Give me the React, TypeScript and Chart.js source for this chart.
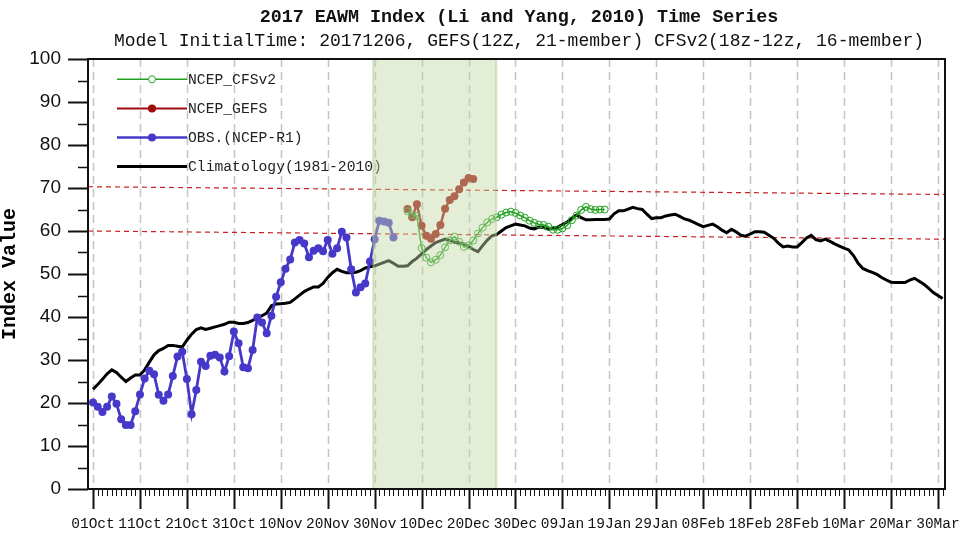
import React, { useEffect, useRef } from 'react';
import { Chart, registerables } from 'chart.js';

Chart.register(...registerables);

// ---------------- data ----------------
const tickDays = [0, 10, 20, 30, 40, 50, 60, 70, 80, 90, 100, 110, 120, 130, 140, 150, 160, 170, 180];
const tickLabels = ['01Oct', '11Oct', '21Oct', '31Oct', '10Nov', '20Nov', '30Nov', '10Dec', '20Dec', '30Dec', '09Jan', '19Jan', '29Jan', '08Feb', '18Feb', '28Feb', '10Mar', '20Mar', '30Mar'];

// Climatology (1981-2010), daily from 01Oct (day 0) to 31Mar (day 181)
const climStartDay = 0;
const climValues = [
  23.2, 24.3, 25.5, 26.8, 27.7, 27.1, 26.0, 25.0, 25.8, 26.5,
  26.5, 27.7, 29.5, 31.2, 32.2, 32.7, 33.4, 33.4, 33.2, 33.0,
  34.6, 36.0, 37.1, 37.5, 37.1, 37.4, 37.7, 38.0, 38.3, 38.8,
  38.8, 38.5, 38.5, 38.7, 39.2, 39.8, 40.3, 40.9, 42.6, 43.0,
  43.1, 43.2, 43.4, 44.2, 45.1, 45.9, 46.5, 47.0, 47.0, 47.8,
  49.2, 50.3, 51.1, 50.6, 50.3, 50.3, 50.4, 50.8, 51.4, 51.7,
  51.9, 52.3, 52.7, 53.1, 52.5, 51.8, 51.8, 51.9, 52.9, 53.7,
  54.7, 55.7, 56.5, 57.3, 57.7, 58.1, 57.8, 57.4, 57.2, 57.0,
  56.4, 55.7, 55.2, 56.6, 57.9, 58.9, 59.2, 60.0, 60.8, 61.2,
  61.6, 61.4, 61.2, 60.7, 60.5, 60.9, 60.8, 60.4, 60.6, 60.9,
  61.5, 62.1, 62.9, 63.7, 63.1, 62.6, 62.6, 62.7, 62.7, 62.7,
  62.8, 64.0, 64.7, 64.7, 65.1, 65.5, 65.2, 65.0, 63.9, 62.9,
  63.1, 63.1, 63.5, 63.7, 63.9, 63.4, 62.8, 62.5, 62.0, 61.5,
  61.0, 61.3, 61.6, 61.0, 60.2, 59.6, 60.4, 59.8, 59.0, 58.8,
  59.3, 59.8, 59.8, 59.7, 59.0, 58.3, 57.2, 56.3, 56.5, 56.3,
  56.3, 57.3, 58.4, 59.0, 58.0, 57.7, 58.1, 57.6, 57.0, 56.5,
  56.0, 55.6, 54.3, 52.5, 51.3, 50.8, 50.4, 49.9, 49.2, 48.6,
  48.1, 48.0, 48.0, 48.0, 48.6, 49.0, 48.3, 47.6, 46.7, 45.7,
  45.0, 44.3,
];

// OBS (NCEP-R1), daily from 01Oct
const obsStartDay = 0;
const obsValues = [
  20.1, 19.1, 17.9, 19.1, 21.5, 19.8, 16.2, 14.9, 14.9, 18.1,
  22.0, 25.7, 27.5, 26.7, 21.9, 20.5, 22.0, 26.3, 30.8, 31.9,
  25.6, 17.4, 23.0, 29.6, 28.6, 31.0, 31.2, 30.6, 27.3, 30.9,
  36.6, 33.9, 28.3, 28.1, 32.3, 39.9, 38.7, 36.2, 40.3, 44.7,
  48.1, 51.2, 53.4, 57.3, 57.9, 57.1, 53.9, 55.4, 56.0, 55.3,
  57.9, 54.7, 56.0, 59.8, 58.5, 51.1, 45.7, 46.9, 47.8, 52.9,
  58.1, 62.4, 62.2, 61.9, 58.5,
];

// NCEP_GEFS forecast
const gefsStartDay = 67;
const gefsValues = [65.1, 63.2, 66.2, 61.2, 58.9, 58.2, 59.3, 61.4, 65.2, 67.2, 68.1, 69.7, 71.3, 72.3, 72.1];

// NCEP_CFSv2 forecast
const cfsStartDay = 67;
const cfsValues = [
  64.6, 63.8, 63.5, 56.0, 53.8, 52.7, 53.3, 54.4, 56.2, 57.8,
  58.7, 57.5, 56.3, 56.6, 57.8, 59.4, 60.8, 62.0, 62.8, 63.2,
  63.8, 64.3, 64.5, 64.2, 63.6, 63.1, 62.4, 61.9, 61.5, 61.4,
  61.0, 60.3, 60.3, 60.6, 61.3, 62.5, 63.6, 64.9, 65.6, 65.1,
  64.9, 65.0, 65.0,
];

// reference (dashed red) lines, value at left and right edge
const upperRefLine = [70.3, 68.5];
const lowerRefLine = [60.0, 58.1];

const xRange = [-1.07, 181.5];
const yRange = [0, 100];
const forecastWindow = [59.7, 85.9];

const legendItems = [
  { label: 'NCEP_CFSv2', color: '#22a022', width: 1.5, marker: 'open' },
  { label: 'NCEP_GEFS', color: '#a00c0c', width: 2, marker: 'filled' },
  { label: 'OBS.(NCEP-R1)', color: '#4638c8', width: 2.5, marker: 'filled' },
  { label: 'Climatology(1981-2010)', color: '#000000', width: 3, marker: 'none' },
];

const titleText = '2017 EAWM Index (Li and Yang, 2010) Time Series';
const subtitleText = 'Model InitialTime: 20171206, GEFS(12Z, 21-member) CFSv2(18z-12z, 16-member)';

// ---------------- helpers ----------------
const toPoints = (start: number, values: number[]) => values.map((v, i) => ({ x: start + i, y: v }));
const edgePoints = (vals: number[]) => [{ x: xRange[0], y: vals[0] }, { x: xRange[1], y: vals[1] }];

const MONO = '"Liberation Mono", "DejaVu Sans Mono", monospace';
const SANS = '"Liberation Sans", Arial, sans-serif';

const decorPlugin = {
  id: 'decor',
  beforeDatasetsDraw(chart: any) {
    const { ctx, chartArea, scales } = chart;
    const xs = scales.x;
    ctx.save();
    ctx.strokeStyle = '#c4c4c4';
    ctx.lineWidth = 1.5;
    ctx.setLineDash([8, 5]);
    tickDays.forEach((d) => {
      const x = Math.round(xs.getPixelForValue(d)) + 0.5;
      ctx.beginPath();
      ctx.moveTo(x, chartArea.top);
      ctx.lineTo(x, chartArea.bottom);
      ctx.stroke();
    });
    ctx.restore();
  },
  afterDatasetsDraw(chart: any) {
    const { ctx, chartArea, scales } = chart;
    const xs = scales.x;
    // legend
    ctx.save();
    legendItems.forEach((it, i) => {
      const y = 79.3 + i * 29.1;
      ctx.strokeStyle = it.color;
      ctx.lineWidth = it.width;
      ctx.beginPath();
      ctx.moveTo(117, y);
      ctx.lineTo(187, y);
      ctx.stroke();
      if (it.marker !== 'none') {
        ctx.beginPath();
        ctx.arc(152, y, it.marker === 'open' ? 3.5 : 4, 0, Math.PI * 2);
        if (it.marker === 'open') {
          ctx.fillStyle = '#ffffff';
          ctx.fill();
          ctx.lineWidth = 1;
          ctx.stroke();
        } else {
          ctx.fillStyle = it.color;
          ctx.fill();
        }
      }
      ctx.fillStyle = '#222222';
      ctx.font = '14.7px ' + MONO;
      ctx.textAlign = 'left';
      ctx.textBaseline = 'middle';
      ctx.fillText(it.label, 188, y + 1);
    });
    ctx.restore();
    // forecast window shading (drawn over the data)
    const x0 = xs.getPixelForValue(forecastWindow[0]);
    const x1 = xs.getPixelForValue(forecastWindow[1]);
    ctx.save();
    ctx.fillStyle = 'rgba(196,216,164,0.45)';
    ctx.fillRect(x0, chartArea.top, x1 - x0, chartArea.bottom - chartArea.top);
    ctx.strokeStyle = 'rgba(170,196,130,0.45)';
    ctx.lineWidth = 2;
    ctx.strokeRect(x0, chartArea.top, x1 - x0, chartArea.bottom - chartArea.top);
    ctx.restore();
  },
  afterDraw(chart: any) {
    const { ctx, chartArea, scales } = chart;
    const xs = scales.x;
    const ys = scales.y;
    ctx.save();
    // frame
    ctx.strokeStyle = '#111111';
    ctx.lineWidth = 2;
    ctx.strokeRect(chartArea.left, chartArea.top, chartArea.right - chartArea.left, chartArea.bottom - chartArea.top);
    // x ticks
    for (let d = 0; d <= 181; d++) {
      const x = Math.round(xs.getPixelForValue(d)) + 0.5;
      const major = d % 10 === 0;
      ctx.lineWidth = major ? 2 : 1;
      ctx.beginPath();
      ctx.moveTo(x, chartArea.bottom);
      ctx.lineTo(x, chartArea.bottom + (major ? 20 : 7));
      ctx.stroke();
    }
    // y ticks
    for (let v = yRange[0]; v <= yRange[1]; v += 5) {
      const y = Math.round(ys.getPixelForValue(v)) + 0.5;
      const major = v % 10 === 0;
      ctx.lineWidth = major ? 2 : 1.5;
      ctx.beginPath();
      ctx.moveTo(chartArea.left, y);
      ctx.lineTo(chartArea.left - (major ? 20 : 10), y);
      ctx.stroke();
    }
    // titles
    const cx = 519;
    ctx.fillStyle = '#111111';
    ctx.textAlign = 'center';
    ctx.textBaseline = 'middle';
    ctx.font = 'bold 18.4px ' + MONO;
    ctx.fillText(titleText, cx, 17);
    ctx.font = '18px ' + MONO;
    ctx.fillText(subtitleText, cx, 41);
    ctx.restore();
  },
};

export default function App() {
  const ref = useRef<HTMLCanvasElement>(null);
  useEffect(() => {
    if (!ref.current) return;
    const chart = new Chart(ref.current, {
      type: 'line',
      data: {
        datasets: [
          {
            label: 'NCEP_CFSv2',
            data: toPoints(cfsStartDay, cfsValues),
            borderColor: '#22a022',
            borderWidth: 1.5,
            pointRadius: 3.5,
            pointBorderWidth: 1,
            pointBackgroundColor: 'rgba(255,255,255,0)',
            pointBorderColor: '#22a022',
            tension: 0,
          },
          {
            label: 'NCEP_GEFS',
            data: toPoints(gefsStartDay, gefsValues),
            borderColor: '#a00c0c',
            borderWidth: 2.5,
            pointRadius: 4,
            pointBorderWidth: 0,
            pointBackgroundColor: '#a00c0c',
            pointBorderColor: '#a00c0c',
            tension: 0,
          },
          {
            label: 'OBS.(NCEP-R1)',
            data: toPoints(obsStartDay, obsValues),
            borderColor: '#4638c8',
            borderWidth: 2.8,
            pointRadius: 4,
            pointBorderWidth: 0,
            pointBackgroundColor: '#4638c8',
            pointBorderColor: '#4638c8',
            tension: 0,
          },
          {
            label: 'Climatology(1981-2010)',
            data: toPoints(climStartDay, climValues),
            borderColor: '#000000',
            borderWidth: 3,
            pointRadius: 0,
            tension: 0,
          },
          {
            label: 'upper',
            data: edgePoints(upperRefLine),
            borderColor: '#cc2020',
            borderWidth: 1.2,
            borderDash: [5, 4],
            pointRadius: 0,
          },
          {
            label: 'lower',
            data: edgePoints(lowerRefLine),
            borderColor: '#cc2020',
            borderWidth: 1.2,
            borderDash: [5, 4],
            pointRadius: 0,
          },
        ],
      },
      options: {
        animation: false,
        responsive: false,
        maintainAspectRatio: false,
        devicePixelRatio: 1,
        layout: { padding: { top: 59, right: 15, left: 0, bottom: 0 } },
        plugins: {
          legend: { display: false },
          tooltip: { enabled: false },
          title: { display: false },
        },
        scales: {
          x: {
            type: 'linear',
            min: xRange[0],
            max: xRange[1],
            afterFit: (s: any) => { s.height = 49; s.paddingLeft = 0; s.paddingRight = 0; },
            afterBuildTicks: (s: any) => { s.ticks = tickDays.map((v) => ({ value: v })); },
            ticks: {
              autoSkip: false,
              maxRotation: 0,
              minRotation: 0,
              padding: 26,
              color: '#111111',
              font: { family: MONO, size: 14.5 },
              callback: (v: any) => {
                const i = tickDays.indexOf(Number(v));
                return i >= 0 ? tickLabels[i] : '';
              },
            },
            grid: { display: false, drawTicks: false },
            border: { display: false },
          },
          y: {
            min: yRange[0],
            max: yRange[1],
            afterFit: (s: any) => { s.width = 88; s.paddingTop = 0; s.paddingBottom = 0; },
            ticks: {
              stepSize: 10,
              padding: 27,
              color: '#111111',
              font: { family: SANS, size: 19 },
            },
            grid: { display: false, drawTicks: false },
            border: { display: false },
            title: {
              display: true,
              text: 'Index Value',
              color: '#000000',
              padding: 0,
              font: { family: MONO, size: 20, weight: 'bold', lineHeight: 1 },
            },
          },
        },
      },
      plugins: [decorPlugin],
    });
    return () => chart.destroy();
  }, []);
  return (
    <div style={{ position: 'absolute', left: 0, top: 0, width: 960, height: 538, background: '#ffffff' }}>
      <canvas ref={ref} width={960} height={538} style={{ width: 960, height: 538, display: 'block' }} />
    </div>
  );
}
